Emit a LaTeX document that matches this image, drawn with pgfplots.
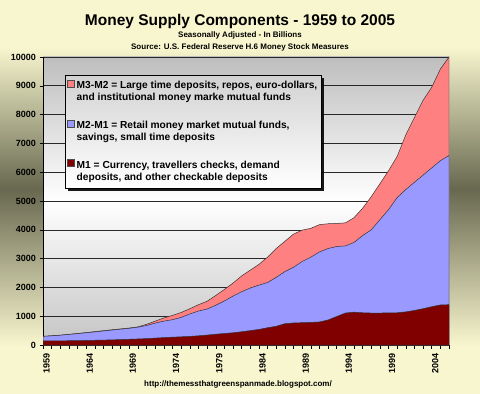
\documentclass[border=0pt]{standalone}
\usepackage{pgfplots}
\pgfplotsset{compat=1.18}
\usepackage{pgfplotstable}
\usepackage{fontspec}
\setmainfont{Liberation Sans}
\usetikzlibrary{shadows}

\makeatletter
\tikzset{no preactions/.code={\let\tikz@preactions\pgfutil@empty}}
\makeatother

\definecolor{bgpale}{RGB}{248,246,206}
\definecolor{bgdark}{RGB}{104,104,80}
\definecolor{m3col}{RGB}{255,128,128}
\definecolor{m2col}{RGB}{153,153,255}
\definecolor{m1col}{RGB}{128,0,0}
\definecolor{plotgray}{RGB}{190,190,190}
\definecolor{gridc}{RGB}{40,40,40}

\pgfdeclareverticalshading{bgshade}{100bp}{color(0bp)=(bgpale); color(31bp)=(bgpale); color(51bp)=(bgdark); color(69bp)=(bgpale); color(100bp)=(bgpale)}

\pgfplotstableread{
year m1 m2 m3
1959 140 300 300
1961 145 340 342
1963 152 395 400
1965 165 455 465
1967 178 520 530
1969 200 580 590
1970 210 620 630
1971 222 680 720
1972 240 760 830
1973 258 830 940
1974 272 880 1030
1975 285 960 1130
1976 300 1080 1260
1977 320 1180 1400
1978 345 1250 1520
1979 375 1380 1720
1980 400 1530 1930
1981 425 1700 2150
1982 460 1850 2400
1983 500 1980 2600
1984 540 2080 2800
1985 600 2170 3050
1986 650 2350 3350
1987 740 2550 3600
1988 765 2700 3850
1989 775 2900 3990
1990 785 3050 4050
1991 800 3230 4180
1992 870 3350 4210
1993 990 3420 4220
1994 1110 3440 4240
1995 1140 3560 4420
1996 1120 3800 4750
1997 1110 4000 5150
1998 1110 4350 5600
1999 1115 4700 6050
2000 1120 5120 6550
2001 1150 5400 7300
2002 1200 5650 7900
2003 1260 5900 8500
2004 1330 6150 8950
2005 1390 6400 9580
2006 1400 6580 10000
}\moneydata

\begin{document}
\begin{tikzpicture}[x=1bp,y=1bp]
\useasboundingbox (0,0) rectangle (480,393);
\shade[shading=bgshade] (0,0) rectangle (480,393);

\node[anchor=base, font=\fontsize{15.5bp}{17bp}\selectfont\bfseries] at (240,368) {Money Supply Components - 1959 to 2005};
\node[anchor=base, font=\fontsize{8bp}{9bp}\selectfont\bfseries] at (240,355.5) {Seasonally Adjusted - In Billions};
\node[anchor=base, font=\fontsize{8bp}{9bp}\selectfont\bfseries] at (240,344) {Source: U.S. Federal Reserve H.6 Money Stock Measures};
\node[anchor=base, font=\fontsize{8bp}{9bp}\selectfont\bfseries] at (238,6.5) {http://themessthatgreenspanmade.blogspot.com/};

\begin{axis}[
  at={(43bp,48bp)}, anchor=south west,
  scale only axis, width=406bp, height=288bp,
  xmin=1959, xmax=2006, ymin=0, ymax=10000,
  axis x line*=bottom, axis y line*=left,
  axis line style={black, line width=0.6bp},
  axis background/.style={shade, top color=plotgray, bottom color=plotgray!90, middle color=white},
  ytick={0,1000,...,10000},
  scaled y ticks=false,
  xtick={1959,1964,...,2004},
  minor xtick={1959,...,2006},
  tick align=outside,
  major tick length=3.5bp, minor tick length=3.5bp,
  tick style={black, line width=0.5bp},
  ymajorgrids, grid style={gridc, line width=0.6bp},
  /pgf/number format/assume math mode=true,
  /pgf/number format/1000 sep={},
  ticklabel style={font=\fontsize{9bp}{10bp}\selectfont\bfseries},
  xticklabel style={rotate=90, anchor=east, xshift=-1bp, yshift=-3.5bp},
  legend cell align=left,
  legend style={at={(0.054,0.9375)}, anchor=north west,
    draw=black, line width=0.8bp,
    top color=gray!35, bottom color=white,
    drop shadow={shadow xshift=3bp, shadow yshift=-3bp, fill=black, opacity=0.9},
    font=\fontsize{10.2bp}{12bp}\selectfont\bfseries,
    cells={align=left},
    row sep=15bp, inner xsep=2bp, inner ysep=4bp},
  legend image code/.code={\draw[no preactions, #1, draw=black!70, line width=0.4bp] (0bp,5bp) rectangle (7bp,12bp);},
]
\addplot[fill=m3col, draw=black!80, line width=0.5bp] table[x=year,y=m3] {\moneydata} \closedcycle;
\addlegendentry{M3-M2 = Large time deposits, repos, euro-dollars,\\and institutional money marke mutual funds}
\addplot[fill=m2col, draw=black!80, line width=0.5bp] table[x=year,y=m2] {\moneydata} \closedcycle;
\addlegendentry{M2-M1 = Retail money market mutual funds,\\savings, small time deposits}
\addplot[fill=m1col, draw=black!80, line width=0.5bp] table[x=year,y=m1] {\moneydata} \closedcycle;
\addlegendentry{M1 = Currency, travellers checks, demand\\deposits, and other checkable deposits}
\end{axis}
\end{tikzpicture}
\end{document}
